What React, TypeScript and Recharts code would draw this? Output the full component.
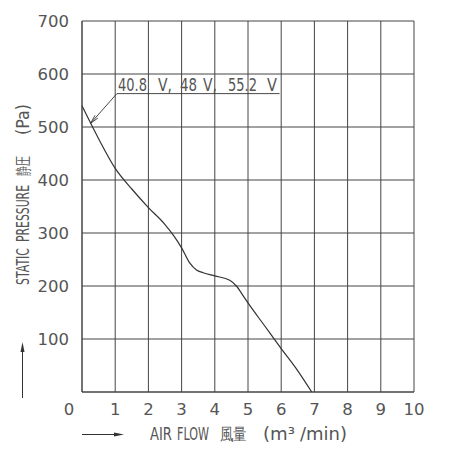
import React from "react";
import {
  LineChart,
  Line,
  XAxis,
  YAxis,
  CartesianGrid,
  ReferenceLine,
} from "recharts";

// 風量 (m³/min) と 静圧 (Pa) — 図から読み取り
const flow = [0, 0.5, 1, 1.5, 2, 2.5, 2.75, 3, 3.25, 3.45, 3.65, 4, 4.45, 4.65, 4.85, 5, 5.5, 6, 6.5, 6.92];
const pressure = [540, 478, 422, 383, 348, 316, 296, 272, 243, 230, 225, 219, 211, 200, 182, 168, 125, 82, 40, 0];

const xTicks = [0, 1, 2, 3, 4, 5, 6, 7, 8, 9, 10];
const yTicks = [100, 200, 300, 400, 500, 600, 700];

// 注記・軸タイトル（語ごとに位置と幅を指定）
const voltageWords = [
  { t: "40.8", x: 118, w: 29 },
  { t: "V,", x: 158, w: 14 },
  { t: "48", x: 180, w: 17 },
  { t: "V,", x: 203, w: 14 },
  { t: "55.2", x: 228, w: 29 },
  { t: "V", x: 267, w: 10 },
];
const xTitleWords = [
  { t: "AIR", x: 150, w: 22 },
  { t: "FLOW", x: 177, w: 32 },
  { t: "風量", x: 220, w: 27 },
  { t: "(m³", x: 263, w: 32 },
  { t: "/min)", x: 300, w: 47 },
];
const yTitleWords = [
  { t: "STATIC", y: 285, w: 37 },
  { t: "PRESSURE", y: 242, w: 57 },
  { t: "静圧", y: 176, w: 20 },
  { t: "(Pa)", y: 135, w: 31 },
];

const FONT = "'DejaVu Sans', sans-serif";
const TEXT = "#555";
const INK = "#333";

const chartData = flow.map((f, i) => ({ flow: f, pressure: pressure[i] }));

// 細長い製図フォント風にするため、語の幅に合わせて横方向に縮める
let ctx: CanvasRenderingContext2D | null = null;
function fitScale(text: string, size: number, width: number) {
  if (!ctx && typeof document !== "undefined") {
    ctx = document.createElement("canvas").getContext("2d");
  }
  if (!ctx) return 0.7;
  ctx.font = `${size}px 'DejaVu Sans', 'Noto Sans CJK JP', sans-serif`;
  const natural = ctx.measureText(text).width || width;
  return width / natural;
}

function Word({ t, x, y, w, size, rotate }: any) {
  const sx = fitScale(t, size, w);
  const transform = rotate
    ? `translate(${x},${y}) rotate(-90) scale(${sx},1)`
    : `translate(${x},${y}) scale(${sx},1)`;
  return (
    <text x={0} y={0} transform={transform} fontFamily={FONT} fontSize={size} fill={TEXT}>
      {t}
    </text>
  );
}

function XTick(props: any) {
  const { x, y, payload } = props;
  // 原点の "0" は少し左にずれている
  const dx = payload.value === 0 ? -13 : 0;
  return (
    <text x={x + dx} y={y + 15} textAnchor="middle" fontFamily={FONT} fontSize={16.5} fill={TEXT}>
      {payload.value}
    </text>
  );
}

function LeaderShape(props: any) {
  const { x1, y1, x2, y2 } = props;
  const len = Math.hypot(x2 - x1, y2 - y1) || 1;
  const ux = (x2 - x1) / len;
  const uy = (y2 - y1) / len;
  const L = 9;
  const a = 0.22;
  const bx1 = x2 - L * (ux * Math.cos(a) - uy * Math.sin(a));
  const by1 = y2 - L * (uy * Math.cos(a) + ux * Math.sin(a));
  const bx2 = x2 - L * (ux * Math.cos(-a) - uy * Math.sin(-a));
  const by2 = y2 - L * (uy * Math.cos(-a) + ux * Math.sin(-a));
  return (
    <g>
      <line x1={x1} y1={y1} x2={x2} y2={y2} stroke={INK} strokeWidth={0.9} />
      <polyline points={`${bx1},${by1} ${x2},${y2} ${bx2},${by2}`} fill="none" stroke={INK} strokeWidth={0.9} />
    </g>
  );
}

export default function App() {
  return (
    <div style={{ position: "absolute", left: 0, top: 0, width: 450, height: 450, background: "#fff" }}>
      <LineChart
        width={450}
        height={450}
        data={chartData}
        margin={{ top: 21, right: 36, left: 0, bottom: 0 }}
      >
        <CartesianGrid stroke="#444" strokeWidth={1} />
        <XAxis
          type="number"
          dataKey="flow"
          domain={[0, 10]}
          ticks={xTicks}
          height={58}
          tickLine={false}
          axisLine={{ stroke: "#444" }}
          tick={<XTick />}
          interval={0}
          label={{
            content: () => (
              <g>
                <line x1={82} y1={434.5} x2={120} y2={434.5} stroke={INK} strokeWidth={1} />
                <polygon points="124,434.5 114,432.5 114,436.5" fill={INK} />
                {xTitleWords.map((w) => (
                  <Word key={w.t} t={w.t} x={w.x} y={440} w={w.w} size={17} />
                ))}
              </g>
            ),
          }}
        />
        <YAxis
          type="number"
          domain={[0, 700]}
          ticks={yTicks}
          width={82}
          tickLine={false}
          axisLine={{ stroke: "#444" }}
          tickMargin={7}
          tick={{ fontFamily: FONT, fontSize: 16.5, fill: TEXT }}
          interval={0}
          label={{
            content: () => (
              <g>
                <line x1={22.5} y1={398} x2={22.5} y2={346} stroke={INK} strokeWidth={1} />
                <polygon points="22.5,342 20.5,352 24.5,352" fill={INK} />
                {yTitleWords.map((w) => (
                  <Word key={w.t} t={w.t} x={29} y={w.y} w={w.w} size={17} rotate />
                ))}
              </g>
            ),
          }}
        />
        <ReferenceLine
          segment={[
            { x: 1.05, y: 563 },
            { x: 5.95, y: 563 },
          ]}
          stroke={INK}
          strokeWidth={0.9}
          label={{
            content: () => (
              <g>
                {voltageWords.map((w, i) => (
                  <Word key={i} t={w.t} x={w.x} y={91} w={w.w} size={17.5} />
                ))}
              </g>
            ),
          }}
        />
        <ReferenceLine
          segment={[
            { x: 1.05, y: 563 },
            { x: 0.26, y: 507 },
          ]}
          shape={(p: any) => <LeaderShape {...p} />}
        />
        <Line
          type="monotone"
          dataKey="pressure"
          stroke={INK}
          strokeWidth={1.2}
          dot={false}
          activeDot={false}
          isAnimationActive={false}
        />
      </LineChart>
    </div>
  );
}
